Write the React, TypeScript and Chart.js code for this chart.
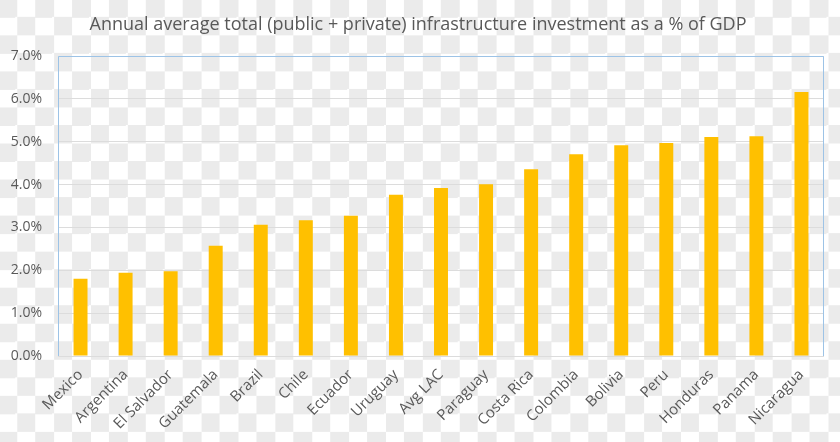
import React, { useEffect, useRef } from "react";
import { Chart, registerables } from "chart.js";

Chart.register(...registerables);

const titleText = "Annual average total (public + private) infrastructure investment as a % of GDP";
const countries = [
  "Mexico", "Argentina", "El Salvador", "Guatemala", "Brazil", "Chile", "Ecuador",
  "Uruguay", "Avg LAC", "Paraguay", "Costa Rica", "Colombia", "Bolivia", "Peru",
  "Honduras", "Panama", "Nicaragua",
];
const investment = [
  1.80, 1.94, 1.98, 2.57, 3.06, 3.17, 3.27, 3.76, 3.92, 4.01, 4.36, 4.71, 4.92, 4.97,
  5.11, 5.13, 6.16,
];
const yMin = 0;
const yMax = 7;
const yStep = 1;

const FONT = "Open Sans";

export default function App() {
  const ref = useRef<HTMLCanvasElement | null>(null);

  useEffect(() => {
    document.body.style.margin = "0";
    const canvas = ref.current;
    if (!canvas) return;

    const framePlugin = {
      id: "frame",
      beforeDatasetsDraw(chart: any) {
        const { ctx, chartArea } = chart;
        ctx.save();
        ctx.strokeStyle = "#9dc3e6";
        ctx.lineWidth = 1;
        ctx.beginPath();
        ctx.moveTo(chartArea.left + 0.5, chartArea.bottom);
        ctx.lineTo(chartArea.left + 0.5, chartArea.top + 0.5);
        ctx.lineTo(chartArea.right - 0.5, chartArea.top + 0.5);
        ctx.lineTo(chartArea.right - 0.5, chartArea.bottom);
        ctx.stroke();
        ctx.restore();
      },
      afterDraw(chart: any) {
        const { ctx } = chart;
        ctx.save();
        ctx.fillStyle = "#595959";
        ctx.font = `18px "${FONT}"`;
        ctx.textAlign = "center";
        ctx.textBaseline = "middle";
        ctx.fillText(titleText, 418, 25);
        ctx.restore();
      },
    };

    const chart = new Chart(canvas, {
      type: "bar",
      data: {
        labels: countries,
        datasets: [
          {
            data: investment,
            backgroundColor: "#ffc000",
            borderWidth: 0,
            barPercentage: 0.31,
            categoryPercentage: 1,
          },
        ],
      },
      options: {
        animation: false,
        responsive: false,
        maintainAspectRatio: false,
        layout: { padding: { top: 56, right: 16, left: 0, bottom: 0 } },
        plugins: {
          legend: { display: false },
          title: { display: false },
          tooltip: { enabled: false },
        },
        scales: {
          x: {
            afterFit(scale: any) {
              scale.height = 86;
            },
            grid: { display: false, drawTicks: false },
            border: { display: false },
            ticks: {
              color: "#595959",
              font: { family: FONT, size: 15 },
              maxRotation: 45,
              minRotation: 45,
              autoSkip: false,
              padding: 10,
            },
          },
          y: {
            min: yMin,
            max: yMax,
            afterFit(scale: any) {
              scale.width = 58;
            },
            grid: { color: "#dcdcdc", drawTicks: false },
            border: { display: false },
            ticks: {
              stepSize: yStep,
              color: "#595959",
              font: { family: FONT, size: 14 },
              padding: 16,
              callback: (v: any) => Number(v).toFixed(1) + "%",
            },
          },
        },
      },
      plugins: [framePlugin],
    });
    return () => chart.destroy();
  }, []);

  return (
    <div
      style={{
        width: 840,
        height: 442,
        backgroundColor: "#ffffff",
        backgroundImage:
          "conic-gradient(#ffffff 25%, #ebebeb 0 50%, #ffffff 0 75%, #ebebeb 0)",
        backgroundSize: "36.88px 36.06px",
        backgroundPosition: "-1.7px -0.7px",
      }}
    >
      <canvas ref={ref} width={840} height={442} style={{ display: "block" }} />
    </div>
  );
}
